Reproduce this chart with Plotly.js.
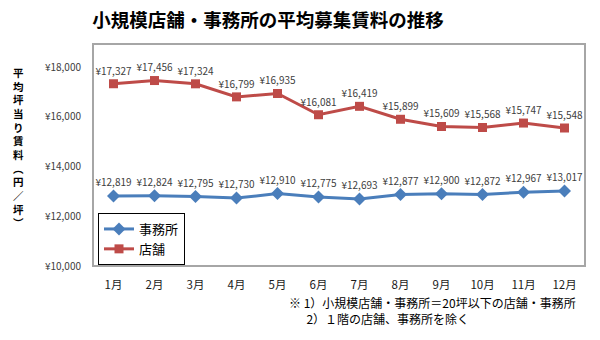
<!DOCTYPE html>
<html>
<head>
<meta charset="utf-8">
<script src="https://cdn.plot.ly/plotly-3.0.1.min.js"></script>
<style>html,body{margin:0;padding:0;background:#fff;}#chart{width:600px;height:340px;}</style>
</head>
<body>
<div id="chart"></div>
<script>
const months = ['1月','2月','3月','4月','5月','6月','7月','8月','9月','10月','11月','12月'];
const officeRent = [12819,12824,12795,12730,12910,12775,12693,12877,12900,12872,12967,13017];
const storeRent = [17327,17456,17324,16799,16935,16081,16419,15899,15609,15568,15747,15548];
const yTickValues = [10000,12000,14000,16000,18000];
const yTickLabels = ['¥10,000','¥12,000','¥14,000','¥16,000','¥18,000'];
const seriesNames = ['事務所','店舗'];
const chartTitle = '小規模店舗・事務所の平均募集賃料の推移';
const yTitleChars = ['平','均','坪','当','り','賃','料','︵','円','／','坪','︶'];
const noteLines = ['※ 1）小規模店舗・事務所＝20坪以下の店舗・事務所','　\u00A0\u00A02）１階の店舗、事務所を除く'];

const FONT = '"Noto Sans CJK JP", "Noto Sans", sans-serif';
const W = 600, H = 340, ML = 93, MR = 15, MT = 44, MB = 74;
const pw = W - ML - MR, ph = H - MT - MB;
const px = x => (x - ML) / pw;
const py = y => (H - MB - y) / ph;

const traces = [
  {
    x: months, y: officeRent, name: seriesNames[0], type: 'scatter', mode: 'lines+markers+text',
    line: {color: '#4A7EBB', width: 3},
    marker: {symbol: 'diamond', size: 10, color: '#4A7EBB'},
    texttemplate: '¥%{y:,}', textposition: 'top center',
    textfont: {family: FONT, size: 10, color: '#404040'}, cliponaxis: false
  },
  {
    x: months, y: storeRent, name: seriesNames[1], type: 'scatter', mode: 'lines+markers+text',
    line: {color: '#BE4B48', width: 3},
    marker: {symbol: 'square', size: 9, color: '#BE4B48'},
    texttemplate: '¥%{y:,}', textposition: 'top center',
    textfont: {family: FONT, size: 10, color: '#404040'}, cliponaxis: false
  }
];

const annotations = [
  {
    xref: 'paper', yref: 'paper', x: px(18), y: py(147), xanchor: 'center', yanchor: 'middle',
    showarrow: false, text: yTitleChars.join('<br>'), align: 'center',
    font: {family: FONT, size: 10.5, color: '#000', weight: 'bold'}
  },
  {
    xref: 'paper', yref: 'paper', x: px(287), y: py(310), xanchor: 'left', yanchor: 'middle',
    showarrow: false, text: noteLines.join('<br>'), align: 'left',
    font: {family: FONT, size: 12, color: '#000'}
  }
];

const layout = {
  width: W, height: H,
  margin: {l: ML, r: MR, t: MT, b: MB, pad: 0},
  paper_bgcolor: '#fff', plot_bgcolor: '#fff',
  title: {text: chartTitle, x: 268 / W, xanchor: 'center', y: 1 - 21 / H, yanchor: 'middle',
          font: {family: FONT, size: 18.5, color: '#000', weight: 'bold'}},
  xaxis: {type: 'category', range: [-0.5, 11.5], showgrid: false, zeroline: false, showline: false,
          ticks: '', ticklabelstandoff: 10,
          tickfont: {family: FONT, size: 11.5, color: '#1a1a1a'}, fixedrange: true},
  yaxis: {range: [10000, 18925], tickvals: yTickValues, ticktext: yTickLabels, showgrid: false,
          zeroline: false, showline: false, ticks: '', ticklabelstandoff: 11,
          tickfont: {family: FONT, size: 10, color: '#404040'}, fixedrange: true},
  showlegend: true,
  legend: {x: px(98), y: py(213), xanchor: 'left', yanchor: 'top', bgcolor: '#fff',
           bordercolor: '#000', borderwidth: 1, font: {family: FONT, size: 13, color: '#000'},
           tracegroupgap: 0, itemwidth: 30},
  shapes: [{type: 'rect', xref: 'paper', yref: 'paper', x0: 0, x1: 1, y0: 0, y1: 1,
            line: {color: '#A6A6A6', width: 2}, fillcolor: 'rgba(0,0,0,0)', layer: 'below'}],
  annotations: annotations
};

Plotly.newPlot('chart', traces, layout, {displayModeBar: false, staticPlot: true});
</script>
</body>
</html>
